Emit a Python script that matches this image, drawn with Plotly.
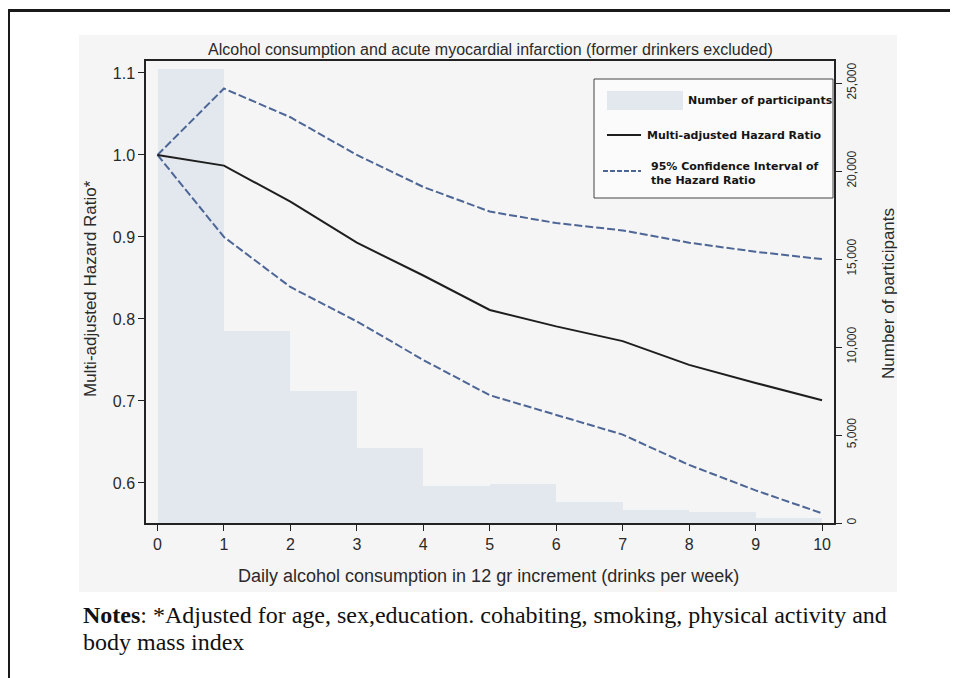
import plotly.graph_objects as go

# ---- data ----
drinks = [0, 1, 2, 3, 4, 5, 6, 7, 8, 9, 10]
hazard_ratio = [1.0, 0.987, 0.943, 0.893, 0.853, 0.811, 0.791, 0.773, 0.744, 0.722, 0.701]
ci_upper = [1.0, 1.081, 1.046, 1.0, 0.961, 0.931, 0.917, 0.908, 0.893, 0.882, 0.873]
ci_lower = [1.0, 0.900, 0.839, 0.797, 0.750, 0.707, 0.683, 0.659, 0.622, 0.591, 0.563]

bin_centers = [0.5, 1.5, 2.5, 3.5, 4.5, 5.5, 6.5, 7.5, 8.5, 9.5]
participants = [25800, 10900, 7500, 4260, 2100, 2200, 1200, 750, 600, 300]

hr_ticks = [0.6, 0.7, 0.8, 0.9, 1.0, 1.1]
hr_tick_labels = ["0.6", "0.7", "0.8", "0.9", "1.0", "1.1"]
count_ticks = [0, 5000, 10000, 15000, 20000, 25000]
count_tick_labels = ["0", "5,000", "10,000", "15,000", "20,000", "25,000"]

title_text = "Alcohol consumption and acute myocardial infarction (former drinkers excluded)"
x_title = "Daily alcohol consumption in 12 gr increment (drinks per week)"
y_left_title = "Multi-adjusted Hazard Ratio*"
y_right_title = "Number of participants"
legend_labels = ["Number of participants", "Multi-adjusted Hazard Ratio",
                 "95% Confidence Interval of<br>the Hazard Ratio"]
notes_line1 = "<b>Notes</b>: *Adjusted for age, sex,education. cohabiting, smoking, physical activity and"
notes_line2 = "body mass index"

# ---- layout geometry (figure pixels; page has an 8px body margin) ----
OFF = 8
W, H = 950, 670
ML, MR, MT, MB = 138, 124, 53, 155
PW, PH = W - ML - MR, H - MT - MB


def fx(px):
    """page x pixel -> paper fraction"""
    return (px - OFF - ML) / PW


def fy(py):
    """page y pixel -> paper fraction"""
    return (H - MB - (py - OFF)) / PH


BAR_COLOR = "#e3e7ee"
CI_COLOR = "#4d6696"
LINE_COLOR = "#1e1e1e"
TEXT_COLOR = "#2a2a2a"
SANS = "Liberation Sans, Arial, sans-serif"

fig = go.Figure()

fig.add_trace(go.Bar(
    x=bin_centers, y=participants, width=1.0, marker=dict(color=BAR_COLOR, line=dict(width=0)),
    name="Number of participants", yaxis="y", showlegend=False, hoverinfo="x+y"))

fig.add_trace(go.Scatter(
    x=drinks, y=ci_upper, mode="lines", yaxis="y2", showlegend=False,
    line=dict(color=CI_COLOR, width=2, dash="8px,3px"), name="95% CI upper"))
fig.add_trace(go.Scatter(
    x=drinks, y=ci_lower, mode="lines", yaxis="y2", showlegend=False,
    line=dict(color=CI_COLOR, width=2, dash="8px,3px"), name="95% CI lower"))
fig.add_trace(go.Scatter(
    x=drinks, y=hazard_ratio, mode="lines", yaxis="y2", showlegend=False,
    line=dict(color=LINE_COLOR, width=2), name="Multi-adjusted Hazard Ratio"))

axis_common = dict(showgrid=False, zeroline=False, showline=True, linecolor="#222",
                   linewidth=1.5, ticks="outside", ticklen=6, tickcolor="#222", tickwidth=1.2)

fig.update_layout(
    width=W, height=H,
    margin=dict(l=ML, r=MR, t=MT, b=MB, pad=0),
    paper_bgcolor="white",
    plot_bgcolor="rgba(0,0,0,0)",
    bargap=0,
    showlegend=False,
    font=dict(family=SANS, color=TEXT_COLOR),
    xaxis=dict(range=[-0.173, 10.18], tickvals=drinks, mirror=True,
               tickfont=dict(size=16, color=TEXT_COLOR), **axis_common),
    yaxis=dict(range=[0, 26250], side="right", tickvals=count_ticks, ticktext=count_tick_labels,
               tickangle=-90, tickfont=dict(size=12, color=TEXT_COLOR), **axis_common),
    yaxis2=dict(range=[0.5512, 1.1146], side="left", overlaying="y", tickvals=hr_ticks,
                ticktext=hr_tick_labels, tickfont=dict(size=16, color=TEXT_COLOR), **axis_common),
)

shapes = [
    # scanned-figure gray background
    dict(type="rect", xref="paper", yref="paper", x0=fx(79), x1=fx(897), y0=fy(592), y1=fy(35),
         fillcolor="#f5f5f5", line=dict(width=0), layer="below"),
    # page border
    dict(type="rect", xref="paper", yref="paper", x0=fx(8.5), x1=fx(990), y0=fy(720), y1=fy(10.5),
         fillcolor="rgba(0,0,0,0)", line=dict(color="#1a1a1a", width=3), layer="above"),
    # legend box
    dict(type="rect", xref="paper", yref="paper", x0=fx(594), x1=fx(833), y0=fy(198), y1=fy(79),
         fillcolor="#fbfbfb", line=dict(color="#444", width=1), layer="above"),
    # legend swatches
    dict(type="rect", xref="paper", yref="paper", x0=fx(607), x1=fx(683), y0=fy(110), y1=fy(91),
         fillcolor=BAR_COLOR, line=dict(width=0), layer="above"),
    dict(type="line", xref="paper", yref="paper", x0=fx(607), x1=fx(641), y0=fy(135), y1=fy(135),
         line=dict(color=LINE_COLOR, width=2), layer="above"),
    dict(type="line", xref="paper", yref="paper", x0=fx(603), x1=fx(641), y0=fy(171), y1=fy(171),
         line=dict(color=CI_COLOR, width=2, dash="5px,2px"), layer="above"),
]
fig.update_layout(shapes=shapes)

LEG_FONT = dict(family="DejaVu Sans, Verdana, sans-serif", size=11, color="#151515")
annotations = [
    dict(text=title_text, x=fx(490), y=fy(49), font=dict(size=16, color=TEXT_COLOR)),
    dict(text=x_title, x=fx(488), y=fy(576), font=dict(size=18, color=TEXT_COLOR)),
    dict(text=y_left_title, x=fx(90), y=fy(289), textangle=-90, font=dict(size=17, color=TEXT_COLOR)),
    dict(text=y_right_title, x=fx(888), y=fy(294), textangle=-90, font=dict(size=17, color=TEXT_COLOR)),
    dict(text="<b>" + legend_labels[0] + "</b>", x=fx(686), y=fy(101), xanchor="left", font=LEG_FONT),
    dict(text="<b>" + legend_labels[1] + "</b>", x=fx(645), y=fy(135), xanchor="left", font=LEG_FONT),
    dict(text="<b>" + legend_labels[2] + "</b>", x=fx(649), y=fy(173), xanchor="left", align="left",
         font=LEG_FONT),
    dict(text=notes_line1, x=fx(81), y=fy(615), xanchor="left",
         font=dict(family="Liberation Serif, Times New Roman, serif", size=24, color="#111")),
    dict(text=notes_line2, x=fx(81), y=fy(642), xanchor="left",
         font=dict(family="Liberation Serif, Times New Roman, serif", size=24, color="#111")),
]
for a in annotations:
    a.setdefault("xanchor", "center")
    a.update(xref="paper", yref="paper", yanchor="middle", showarrow=False)
fig.update_layout(annotations=annotations)

fig.write_html("out.html")
